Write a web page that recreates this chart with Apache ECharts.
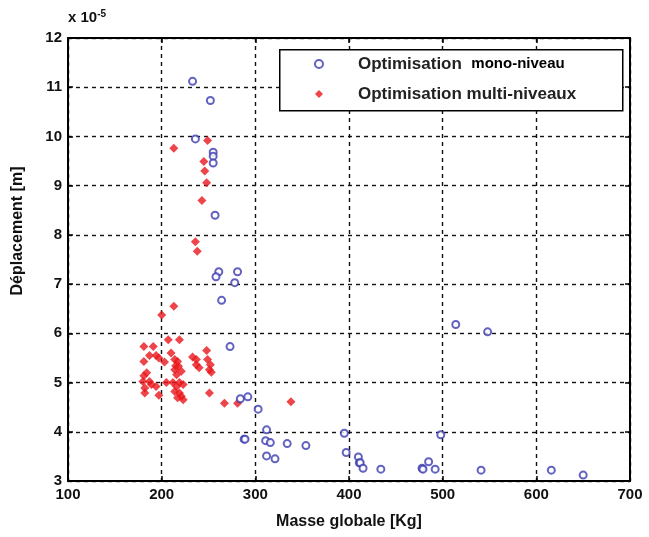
<!DOCTYPE html>
<html>
<head>
<meta charset="utf-8">
<script src="https://cdn.jsdelivr.net/npm/echarts@6/dist/echarts.min.js"></script>
<style>
  html, body { margin: 0; padding: 0; background: #fff; }
  #chart { width: 649px; height: 537px; }
</style>
</head>
<body>
<div id="chart"></div>
<script>
// values of displacement are in units of 1e-5 m
var monoMass = [233, 252, 236, 255, 255, 255, 257, 261, 258, 281, 278, 264, 273,
  284, 292, 303, 312, 288, 289, 311, 316, 334, 354, 312, 321, 395, 397, 410, 411,
  412, 415, 434, 478, 479, 485, 492, 498, 514, 548, 541, 616, 650];
var monoDepl = [11.12, 10.73, 9.95, 9.68, 9.60, 9.46, 8.40, 7.25, 7.15, 7.25, 7.03, 6.67, 5.73,
  4.67, 4.71, 4.46, 4.04, 3.85, 3.85, 3.82, 3.78, 3.76, 3.72, 3.51, 3.45, 3.97, 3.58, 3.49, 3.37,
  3.37, 3.26, 3.24, 3.26, 3.24, 3.39, 3.24, 3.94, 6.18, 6.03, 3.22, 3.22, 3.12];

var multiMass = [249, 213, 245, 246, 248, 243, 236, 238, 200, 213, 207, 219, 181, 191,
  210, 248, 187, 194, 197, 181, 203, 214, 217, 215, 218, 214, 221, 216, 233, 237, 237, 240,
  249, 252, 251, 253, 181, 184, 180, 187, 182, 182, 189, 194, 197, 205, 212, 219, 216, 223,
  214, 219, 221, 217, 223, 251, 267, 281, 338];
var multiDepl = [9.92, 9.76, 9.49, 9.30, 9.06, 8.70, 7.86, 7.67, 6.37, 6.55, 5.87, 5.87, 5.73, 5.73,
  5.60, 5.65, 5.55, 5.55, 5.50, 5.43, 5.42, 5.47, 5.43, 5.34, 5.33, 5.26, 5.23, 5.16, 5.52, 5.47, 5.36, 5.30,
  5.47, 5.36, 5.26, 5.21, 5.14, 5.20, 5.02, 5.02, 4.89, 4.79, 4.96, 4.92, 4.74, 5.00, 5.00, 5.00, 4.92, 4.96,
  4.82, 4.79, 4.72, 4.69, 4.65, 4.79, 4.58, 4.58, 4.61];

var seriesNames = ['Optimisation  mono-niveau', 'Optimisation multi-niveaux'];

function pairs(xs, ys) {
  return xs.map(function (x, i) { return [x, ys[i]]; });
}

var font = 'Liberation Sans, Arial, sans-serif';
var frameLine = { show: true, onZero: false, lineStyle: { color: '#000', width: 2 } };
var inTick = { show: true, inside: true, length: 5, lineStyle: { color: '#000', width: 1.5 } };
var dashGrid = { show: true, lineStyle: { color: '#111', type: [4, 4], width: 1.4 } };

var myChart = echarts.init(document.getElementById('chart'));
myChart.setOption({
  backgroundColor: '#fff',
  animation: false,
  grid: { left: 68, right: 19, top: 38, bottom: 56 },
  xAxis: [{
    type: 'value', min: 100, max: 700, interval: 100,
    axisLine: frameLine, axisTick: inTick,
    axisLabel: { color: '#111', fontWeight: 'bold', fontSize: 15, fontFamily: font, margin: 6 },
    splitLine: dashGrid
  }, {
    type: 'value', position: 'top', min: 100, max: 700, interval: 100,
    axisLine: frameLine, axisTick: inTick, axisLabel: { show: false }, splitLine: { show: false }
  }],
  yAxis: [{
    type: 'value', min: 3, max: 12, interval: 1,
    axisLine: frameLine, axisTick: inTick,
    axisLabel: { color: '#111', fontWeight: 'bold', fontSize: 15, fontFamily: font, margin: 6 },
    splitLine: dashGrid
  }, {
    type: 'value', position: 'right', min: 3, max: 12, interval: 1,
    axisLine: frameLine, axisTick: inTick, axisLabel: { show: false }, splitLine: { show: false }
  }],
  legend: {
    orient: 'vertical', left: 314, top: 55, padding: 0, z: 20,
    itemWidth: 8, itemHeight: 8, itemGap: 12,
    data: [{ name: seriesNames[0], icon: 'emptyCircle' }, { name: seriesNames[1], icon: 'diamond' }],
    formatter: function (name) {
      return name === seriesNames[0] ? '{a|Optimisation}  {m|mono-niveau}' : '{a|' + name + '}';
    },
    textStyle: {
      color: '#222', fontSize: 17, fontFamily: font,
      lineHeight: 18, padding: [0, 0, 0, 30],
      rich: {
        a: { fontSize: 17, fontWeight: 'bold', color: '#222', fontFamily: font },
        m: { fontSize: 15, fontWeight: 'bold', color: '#000', fontFamily: font }
      }
    }
  },
  graphic: [
    { type: 'rect', left: 279, top: 49, z: 10,
      shape: { width: 343, height: 61 },
      style: { fill: '#fff', stroke: '#000', lineWidth: 1.5 } },
    { type: 'text', left: 68, top: 9,
      style: { text: 'x 10{s|-5}', fill: '#111', font: 'bold 15px ' + font,
        rich: { s: { fontSize: 10, fontWeight: 'bold', verticalAlign: 'top', padding: [0, 0, 8, 0] } } } },
    { type: 'text', x: 18, y: 231, rotation: Math.PI / 2,
      style: { text: 'Déplacement [m]', fill: '#111', font: 'bold 16px ' + font,
        align: 'center', verticalAlign: 'middle' } },
    { type: 'text', x: 349, y: 522,
      style: { text: 'Masse globale [Kg]', fill: '#111', font: 'bold 16px ' + font,
        align: 'center', verticalAlign: 'middle' } }
  ],
  series: [{
    name: seriesNames[0], type: 'scatter', z: 3,
    symbol: 'emptyCircle', symbolSize: 7,
    itemStyle: { color: '#3b3bb0', borderColor: '#3b3bb0', borderWidth: 1.6 },
    data: pairs(monoMass, monoDepl)
  }, {
    name: seriesNames[1], type: 'scatter', z: 2,
    symbol: 'diamond', symbolSize: 9,
    itemStyle: { color: '#e8171b' },
    data: pairs(multiMass, multiDepl)
  }]
});
</script>
</body>
</html>
